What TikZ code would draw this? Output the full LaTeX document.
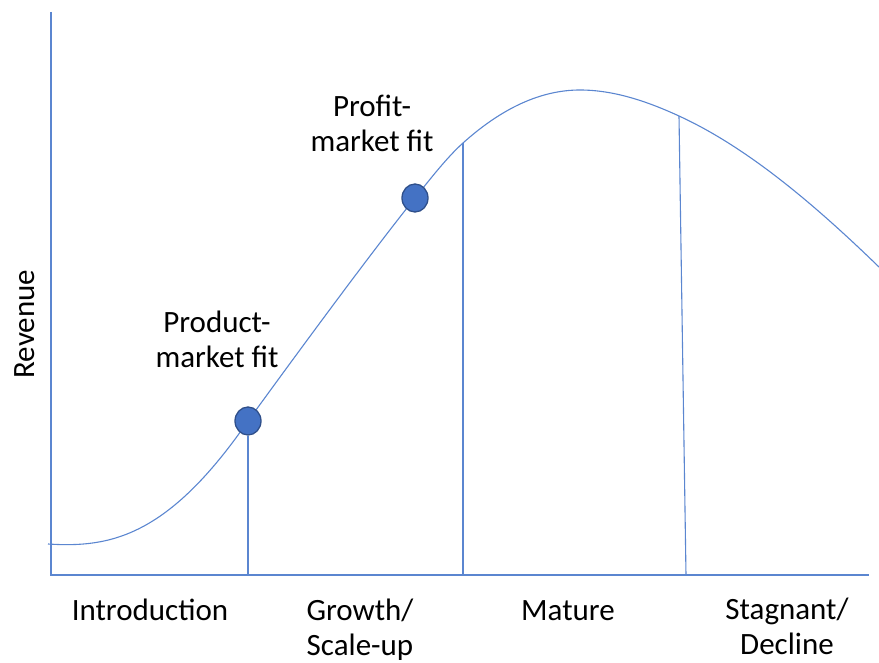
\documentclass[tikz,border=0pt]{standalone}
\usepackage{fontspec}
\setmainfont{Carlito}
\usetikzlibrary{shapes.geometric}
\begin{document}
\begin{tikzpicture}[x=1pt,y=-1pt,
  chart/.style={draw=lineblue,line width=1.1pt},
  milestone/.style={ellipse,draw=dotedge,fill=dotfill,line width=1.3pt,
    minimum width=26pt,minimum height=28pt,inner sep=0pt},
  lbl/.style={font=\fontsize{31}{35}\selectfont,align=center,anchor=base,inner sep=0pt}]
\definecolor{lineblue}{HTML}{5B86D0}
\definecolor{dotfill}{HTML}{4472C4}
\definecolor{dotedge}{HTML}{2F4F8A}
\useasboundingbox (0,0) rectangle (879,663);

% axes
\coordinate (ytop) at (51,12);
\coordinate (origin) at (51,575);
\coordinate (xend) at (869,575);
\draw[chart] (ytop) -- (origin) -- (xend);

% revenue curve, piecewise cubic with matching tangents
\coordinate (c0) at (48,544);
\coordinate (c1) at (248,421);
\coordinate (c2) at (415,198);
\coordinate (c3) at (463,143);
\coordinate (c4) at (580,90);
\coordinate (c5) at (679,116);
\coordinate (c6) at (879,267);
\draw[chart] (c0) .. controls (110,548) and (168,537) .. (c1)
  .. controls (293,359) and (370,254) .. (c2)
  .. controls (431,178) and (447,157.4) .. (c3)
  .. controls (502,108) and (541,90) .. (c4)
  .. controls (613,90) and (646,100.8) .. (c5)
  .. controls (746,146.8) and (812,202) .. (c6);

% stage boundaries
\coordinate (b1) at (248,575);
\coordinate (b2) at (463,575);
\coordinate (b3) at (686,575);

% milestones
\node[milestone] (pmf) at (c1) {};
\node[milestone] (pfit) at (c2) {};

\draw[chart] (pmf.south) -- (b1);
\draw[chart] (c3) -- (b2);
\draw[chart] (c5) -- (b3);

% labels
\node[lbl] (lpmf) at (217,367) {Product-\\market fit};
\node[lbl] (lpfit) at (372,152) {Profit-\\market fit};
\node[lbl,anchor=center,rotate=90] (rev) at (25,324) {Revenue};
\node[lbl] (s1) at (150,620) {Introduction};
\node[lbl] (s2) at (360,655) {Growth/\\Scale-up};
\node[lbl] (s3) at (568,620) {Mature};
\node[lbl] (s4) at (787,654) {Stagnant/\\Decline};
\end{tikzpicture}
\end{document}
